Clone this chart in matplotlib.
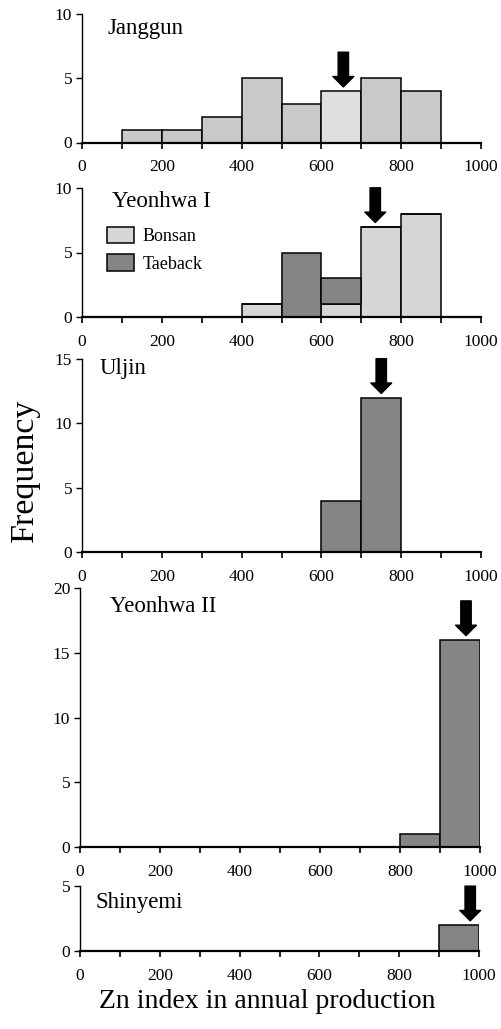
import numpy as np
import matplotlib
matplotlib.use('Agg')
import matplotlib.pyplot as plt
from matplotlib.patches import Patch
from matplotlib.transforms import ScaledTranslation

plt.rcParams['font.family'] = ['Liberation Serif', 'DejaVu Serif']

# Histogram bins: left edges of 100-wide classes of the Zn index
bin_left = np.arange(0, 1000, 100)

# Frequencies per bin
janggun = [0, 1, 1, 2, 5, 3, 4, 5, 4, 0]
yeon1_bonsan = [0, 0, 0, 0, 1, 0, 1, 7, 8, 0]
yeon1_taeback = [0, 0, 0, 0, 0, 5, 2, 0, 0, 0]
uljin = [0, 0, 0, 0, 0, 0, 4, 12, 0, 0]
yeon2 = [0, 0, 0, 0, 0, 0, 0, 0, 1, 16]
shinyemi = [0, 0, 0, 0, 0, 0, 0, 0, 0, 2]

# Arrow marks (mean Zn index) per panel
arrow_x = [655, 735, 750, 965, 978]

panel_names = ['Janggun', 'Yeonhwa I', 'Uljin', 'Yeonhwa II', 'Shinyemi']
y_max = [10, 10, 15, 20, 5]

LIGHT = '#d6d6d6'
JANG = '#c9c9c9'
DARK = '#858585'

W, H = 501, 1029
fig = plt.figure(figsize=(W / 100, H / 100), dpi=100)

# (left px, right px, top px, bottom px) of each axes
boxes = [(82, 481, 14, 142.5), (82, 481, 188, 317), (82, 481, 359, 552),
         (80, 480, 588, 847), (80, 479, 886, 951)]
title_pos = [(0.063, 0.89), (0.075, 0.894), (0.045, 0.953), (0.075, 0.927), (0.04, 0.74)]

axes = []
for (l, r, t, b) in boxes:
    ax = fig.add_axes([l / W, 1 - b / H, (r - l) / W, (b - t) / H])
    axes.append(ax)

bar_kw = dict(width=100, align='edge', edgecolor='black', linewidth=1.1, zorder=2)

j_colors = [JANG] * 10
j_colors[6] = '#dedede'
axes[0].bar(bin_left, janggun, color=j_colors, **bar_kw)
axes[1].bar(bin_left, yeon1_bonsan, color=LIGHT, **bar_kw)
axes[1].bar(bin_left, yeon1_taeback, bottom=yeon1_bonsan, color=DARK, **bar_kw)
axes[2].bar(bin_left, uljin, color=DARK, **bar_kw)
axes[3].bar(bin_left, yeon2, color=DARK, **bar_kw)
axes[4].bar(bin_left, shinyemi, color=DARK, **bar_kw)

totals = [np.array(janggun), np.array(yeon1_bonsan) + np.array(yeon1_taeback),
          np.array(uljin), np.array(yeon2), np.array(shinyemi)]

for i, ax in enumerate(axes):
    ax.set_xlim(0, 1000)
    ax.set_ylim(0, y_max[i])
    ax.set_xticks(np.arange(0, 1001, 200))
    ax.set_xticks(np.arange(100, 1000, 200), minor=True)
    ax.set_yticks(np.arange(0, y_max[i] + 1, 5))
    for s in ['top', 'right']:
        ax.spines[s].set_visible(False)
    ax.spines['bottom'].set_linewidth(1.6)
    ax.spines['left'].set_linewidth(1.0)
    ax.tick_params(axis='x', which='both', direction='out', length=4, width=1.2,
                   labelsize=12.5, pad=8)
    ax.tick_params(axis='y', direction='out', length=4, width=1.0, labelsize=12.5, pad=3)
    ax.text(title_pos[i][0], title_pos[i][1], panel_names[i], transform=ax.transAxes,
            fontsize=16.5, ha='left', va='center')

    # arrow pointing down onto the bin holding the mean
    k = int(arrow_x[i] // 100)
    top = totals[i][k]
    tip_tr = ax.transData + ScaledTranslation(0, 3 / 72, fig.dpi_scale_trans)
    ax.annotate('', xy=(arrow_x[i], top), xycoords=tip_tr, xytext=(0, 25),
                textcoords='offset points', annotation_clip=False,
                arrowprops=dict(width=7.5, headwidth=15, headlength=7.5,
                                facecolor='black', edgecolor='black', shrink=0))

handles = [Patch(facecolor=LIGHT, edgecolor='black', linewidth=1.1, label='Bonsan'),
           Patch(facecolor=DARK, edgecolor='black', linewidth=1.1, label='Taeback')]
axes[1].legend(handles=handles, loc='upper left', bbox_to_anchor=(0.062, 0.70),
               frameon=False, fontsize=13, handlelength=1.5, handleheight=1.05,
               handletextpad=0.5, labelspacing=0.5, borderpad=0, borderaxespad=0)

fig.text(25 / W, 1 - 470 / H, 'Frequency', rotation=90, fontsize=24.5,
         ha='center', va='center')
fig.text(267 / W, 1 - 1002 / H, 'Zn index in annual production', fontsize=20,
         ha='center', va='center')

fig.savefig('out.png', dpi=100)
